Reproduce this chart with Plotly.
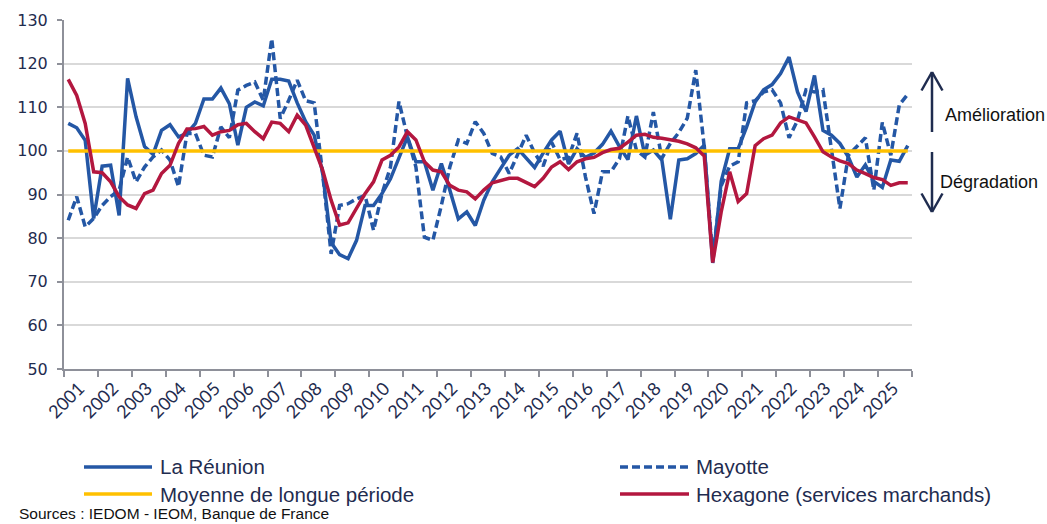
import plotly.graph_objects as go

# Indicateur du climat des affaires, données trimestrielles 2001T1 - 2025T4
annees = list(range(2001, 2026))
trimestres = [(a, t) for a in annees for t in (1, 2, 3, 4)]

la_reunion = [
    106.3, 105.3, 102.4, 84.5, 96.5, 96.7, 85.2, 116.6,
    107.8, 101.0, 99.2, 104.7, 106.0, 103.2, 104.0, 106.3,
    111.9, 111.9, 114.4, 110.8, 101.3, 110.0, 111.2, 110.3,
    116.4, 116.4, 116.0, 111.0, 106.7, 103.6, 95.0, 79.0,
    76.2, 75.3, 79.5, 87.5, 87.5, 90.2, 93.6, 98.6,
    103.2, 97.5, 97.5, 91.0, 97.1, 91.0, 84.4, 86.0,
    82.9, 88.7, 92.9, 96.0, 99.0, 100.5, 98.2, 96.2,
    99.5, 102.5, 104.5, 97.0, 100.5, 98.5, 99.5, 101.5,
    104.5, 101.0, 98.0, 108.0, 99.0, 100.2, 97.9, 84.3,
    97.9, 98.2, 99.4, 101.3, 74.3, 93.0, 100.5, 100.5,
    105.5, 111.2, 114.0, 115.2, 117.7, 121.5, 113.5, 109.0,
    117.3, 104.7, 103.6, 101.7, 98.6, 94.0, 96.8, 93.0,
    91.6, 97.9, 97.6, 101.2,
]

mayotte = [
    84.1, 89.5, 82.6, 84.5, 87.5, 89.5, 91.0, 98.6,
    92.9, 96.3, 98.6, 100.2, 97.9, 91.8, 104.0, 104.0,
    99.0, 98.6, 105.5, 103.0, 113.9, 115.0, 115.8, 111.6,
    125.7, 107.4, 111.6, 116.2, 111.5, 111.0, 94.8, 76.4,
    87.5, 87.9, 89.0, 89.8, 81.8, 90.2, 96.3, 111.3,
    103.2, 96.3, 80.2, 79.5, 87.5, 96.3, 102.5, 101.7,
    106.7, 104.0, 99.4, 98.6, 94.8, 99.4, 103.6, 99.5,
    96.5, 102.0, 98.0, 98.5, 104.0, 94.0, 85.6, 95.2,
    95.2, 98.2, 108.0, 100.2, 98.6, 108.9, 98.3, 101.7,
    104.2, 107.5, 118.5, 100.9, 75.5, 92.0, 96.5, 97.5,
    111.0, 111.5, 113.5, 114.0, 111.0, 103.0, 107.0, 114.0,
    113.5, 114.0, 100.0, 86.8, 99.0, 101.0, 103.0, 91.0,
    106.5, 99.0, 110.5, 113.0,
]

hexagone = [
    116.4, 112.7, 106.3, 95.2, 95.0, 92.9, 89.5, 87.6,
    86.8, 90.2, 91.0, 94.8, 96.7, 101.7, 105.0, 105.1,
    105.6, 103.6, 104.4, 104.7, 106.0, 106.3, 104.4, 102.8,
    106.6, 106.3, 104.4, 108.2, 105.9, 101.0, 95.6, 88.7,
    83.0, 83.5, 86.7, 90.2, 92.9, 97.9, 99.0, 100.9,
    104.4, 102.5, 97.5, 95.6, 95.2, 92.1, 91.0, 90.6,
    89.0, 91.0, 92.7, 93.1, 93.7, 93.7, 92.7, 91.8,
    93.7, 96.3, 97.5, 95.7, 97.5, 98.2, 98.5, 99.6,
    100.3, 100.6, 102.0, 103.6, 103.8, 103.1, 102.9, 102.6,
    102.2, 101.6, 100.7, 98.8, 74.4, 86.0, 95.2, 88.4,
    90.2, 101.2, 102.8, 103.6, 106.4, 107.8, 107.0, 106.4,
    103.2, 99.8, 98.6, 97.7, 97.1, 95.6, 94.8, 93.9,
    93.4, 92.1, 92.7, 92.7,
]

moyenne_longue_periode = 100

# Position de chaque trimestre au centre de sa case sur l'axe des années
x = [a + (t - 0.5) / 4 for a, t in trimestres]

BLEU = "#2457A5"
ROUGE = "#B3173F"
JAUNE = "#FFC000"
MARINE = "#1F2C4F"
GRIS_AXE = "#8E9099"
GRIS_GRILLE = "#D9D9D9"

W, H = 1047, 524
ML, MR, MT, MB = 64, 135, 20, 155
PW, PH = W - ML - MR, H - MT - MB


def px(xp):
    return (xp - ML) / PW


def py(yp):
    return (H - MB - yp) / PH


fig = go.Figure()
fig.add_trace(go.Scatter(x=x, y=la_reunion, mode="lines", name="La Réunion",
                         line=dict(color=BLEU, width=3.5)))
fig.add_trace(go.Scatter(x=x, y=mayotte, mode="lines", name="Mayotte",
                         line=dict(color=BLEU, width=3.5, dash="8px,4px")))
fig.add_trace(go.Scatter(x=x, y=[moyenne_longue_periode] * len(x), mode="lines",
                         name="Moyenne de longue période",
                         line=dict(color=JAUNE, width=3.5)))
fig.add_trace(go.Scatter(x=x, y=hexagone, mode="lines",
                         name="Hexagone (services marchands)",
                         line=dict(color=ROUGE, width=3.5)))

fig.update_layout(
    width=W, height=H,
    margin=dict(l=ML, r=MR, t=MT, b=MB),
    plot_bgcolor="white", paper_bgcolor="white",
    showlegend=False,
    xaxis=dict(
        range=[2001, 2026], showgrid=False, zeroline=False,
        showline=True, linecolor=GRIS_AXE, linewidth=2,
        tickmode="array", tickvals=[a + 0.45 for a in annees],
        ticktext=[str(a) for a in annees], ticks="", tickangle=-45,
        tickfont=dict(family="Lato, sans-serif", size=18, color=MARINE),
        minor=dict(tickmode="linear", tick0=2001, dtick=1, ticks="outside",
                   ticklen=6, tickwidth=2, tickcolor=GRIS_AXE, showgrid=False),
    ),
    yaxis=dict(
        range=[50, 130], dtick=10, zeroline=False,
        showline=True, linecolor=GRIS_AXE, linewidth=2,
        ticks="outside", ticklen=5, tickwidth=2, tickcolor=GRIS_AXE,
        gridcolor=GRIS_GRILLE, gridwidth=2, ticklabelstandoff=6,
        tickfont=dict(family="DejaVu Sans, sans-serif", size=16, color=MARINE),
    ),
)

# Légende dessinée à la main sur deux colonnes
legende = [
    ("La Réunion", BLEU, "solid", 84, 152, 467, 158),
    ("Mayotte", BLEU, "8px,4px", 620, 689, 467, 694),
    ("Moyenne de longue période", JAUNE, "solid", 84, 152, 494, 158),
    ("Hexagone (services marchands)", ROUGE, "solid", 620, 689, 494, 694),
]
for texte, couleur, tirets, x0, x1, yl, xt in legende:
    fig.add_shape(type="line", xref="paper", yref="paper",
                  x0=px(x0), x1=px(x1), y0=py(yl), y1=py(yl),
                  line=dict(color=couleur, width=3.5, dash=tirets))
    fig.add_annotation(xref="paper", yref="paper", x=px(xt), y=py(yl),
                       text=texte, showarrow=False, xanchor="left", yanchor="middle",
                       font=dict(family="Liberation Sans, Arial, sans-serif",
                                 size=20.5, color=MARINE))

fig.add_annotation(xref="paper", yref="paper", x=px(18), y=py(523),
                   text="Sources : IEDOM - IEOM, Banque de France", showarrow=False,
                   xanchor="left", yanchor="bottom", borderpad=0,
                   font=dict(family="Liberation Sans, Arial, sans-serif", size=15.5,
                             color="#111111"))

# Flèches Amélioration / Dégradation
XF = 932


def trait(xa, ya, xb, yb):
    fig.add_shape(type="line", xref="paper", yref="paper",
                  x0=px(xa), y0=py(ya), x1=px(xb), y1=py(yb),
                  line=dict(color=MARINE, width=2.5))


trait(XF, 132, XF, 72)
trait(XF, 72, XF - 10.5, 90.5)
trait(XF, 72, XF + 10.5, 90.5)
trait(XF, 152, XF, 212)
trait(XF, 212, XF - 10.5, 193.5)
trait(XF, 212, XF + 10.5, 193.5)

for texte, xt, yt in [("Amélioration", 943, 115), ("Dégradation", 938, 182)]:
    fig.add_annotation(xref="paper", yref="paper", x=px(xt), y=py(yt), text=texte,
                       showarrow=False, xanchor="left", yanchor="middle",
                       font=dict(family="Liberation Sans, Arial, sans-serif", size=18,
                                 color="#111111"))

fig.write_html("out.html")
